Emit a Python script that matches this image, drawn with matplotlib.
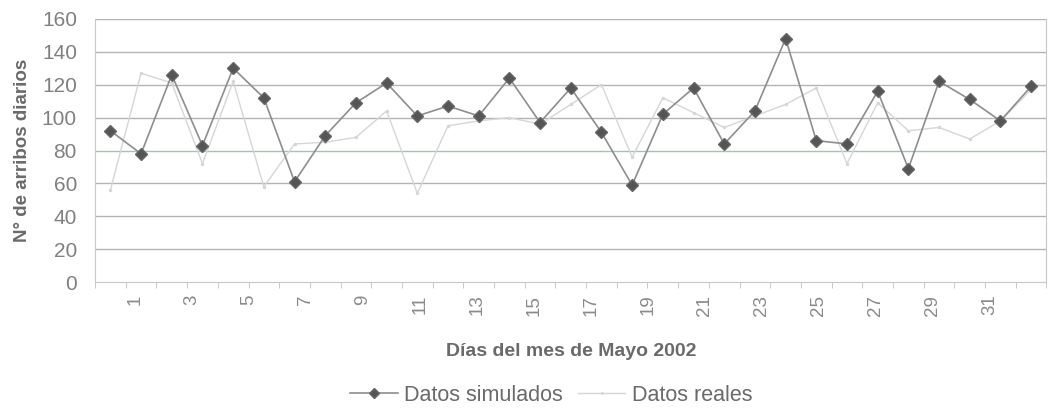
import numpy as np
import matplotlib.pyplot as plt

plt.rcParams['font.family'] = ['Liberation Sans', 'DejaVu Sans']

# arribos diarios, mayo 2002
dias = list(range(1, 32))
simulados = [92, 78, 126, 83, 130, 112, 61, 89, 109, 121, 101, 107, 101, 124, 97, 118,
             91, 59, 102, 118, 84, 104, 148, 86, 84, 116, 69, 122, 111, 98, 119]
reales = [56, 127, 121, 72, 122, 58, 84, 85, 88, 104, 54, 95, 98, 100, 96, 108,
          120, 76, 112, 103, 94, 101, 108, 118, 72, 109, 92, 94, 87, 98, 117]
etiquetas_x = [str(d) for d in range(1, 32, 2)]
ticks_y = list(range(0, 161, 20))

fig, ax = plt.subplots(figsize=(10.56, 4.09), dpi=100)
fig.subplots_adjust(left=0.09, right=0.991, top=0.954, bottom=0.31)

# grid
for v in ticks_y[1:]:
    col = '#a9c2b0' if v == 80 else '#b4b4b4'
    ax.axhline(v, color=col, lw=1.0, zorder=0)

ax.plot(dias, reales, color='#d6d6d6', lw=1.0, marker='.', ms=3,
        label='Datos reales', zorder=2)
ax.plot(dias, simulados, color='#8e8e8e', lw=1.2, marker='D', ms=6.5,
        mfc='#555555', mec='#666666', label='Datos simulados', zorder=3)

ax.set_xlim(0.5, 31.5)
ax.set_ylim(0, 160)
ax.set_yticks(ticks_y)
ax.tick_params(axis='y', length=0, pad=13, labelsize=15, labelcolor='#808080')

# etiquetas de categoría cada dos días
pos_x = np.linspace(1.8, 29.65, len(etiquetas_x))
ax.set_xticks(pos_x)
ax.set_xticklabels(etiquetas_x, rotation=90, fontsize=13.5, color='#8a8a8a')
ax.tick_params(axis='x', length=0, pad=9)
ax.set_xticks(np.arange(0.5, 32, 1), minor=True)
ax.tick_params(axis='x', which='minor', length=4, color='#c0c0c0')

ax.spines['top'].set_visible(False)
for s in ['left', 'right', 'bottom']:
    ax.spines[s].set_color('#c8c8c8')

ax.set_ylabel('N° de arribos diarios', fontsize=13.5, fontweight='bold',
              color='#6a6a6a', labelpad=8)
ax.set_xlabel('Días del mes de Mayo 2002', fontsize=14, fontweight='bold',
              color='#6a6a6a', labelpad=20)

h, l = ax.get_legend_handles_labels()
leg = fig.legend(h[::-1], l[::-1], loc='lower center', bbox_to_anchor=(0.522, -0.04),
                 ncol=2, frameon=False, fontsize=15.5, labelcolor='#6a6a6a',
                 handlelength=2.2, columnspacing=0.7, handletextpad=0.3,
                 markerscale=0.75)

fig.savefig('out.png', dpi=100)
